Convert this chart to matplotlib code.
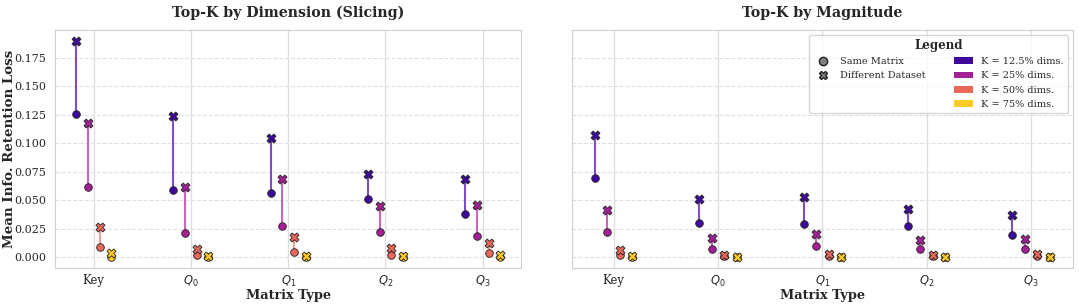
import matplotlib
matplotlib.use("Agg")
import matplotlib.pyplot as plt
from matplotlib.lines import Line2D
from matplotlib.patches import Patch
import seaborn as sns
import numpy as np

sns.set_style("whitegrid")
plt.rcParams['font.family'] = ['DejaVu Serif']

matrices = ["Key", "$Q_0$", "$Q_1$", "$Q_2$", "$Q_3$"]
k_labels = ["K = 12.5% dims.", "K = 25% dims.", "K = 50% dims.", "K = 75% dims."]
colors = ["#3f0a9c", "#a51f97", "#e9685a", "#fdca26"]
line_colors = ["#7d4fc4", "#cc63bd", "#f0a096", "#fde08a"]

# slicing: same matrix (circle) / different dataset (X), rows = K, cols = matrices
slice_same = [
    [0.126, 0.0586, 0.056, 0.051, 0.038],
    [0.0618, 0.0211, 0.027, 0.022, 0.0187],
    [0.0085, 0.0015, 0.0041, 0.0015, 0.0032],
    [0.0003, 0.0003, 0.0003, 0.0002, 0.0003],
]
slice_diff = [
    [0.190, 0.124, 0.1047, 0.073, 0.0686],
    [0.1175, 0.0618, 0.0683, 0.045, 0.0457],
    [0.0267, 0.007, 0.0173, 0.0076, 0.012],
    [0.0035, 0.001, 0.001, 0.0008, 0.0015],
]
mag_same = [
    [0.0695, 0.0296, 0.029, 0.027, 0.0193],
    [0.0216, 0.0073, 0.0093, 0.007, 0.0067],
    [0.0018, 0.0006, 0.001, 0.0007, 0.0009],
    [0.0002, 0.0001, 0.0002, 0.0001, 0.0002],
]
mag_diff = [
    [0.1073, 0.0513, 0.053, 0.0419, 0.0366],
    [0.041, 0.0167, 0.0205, 0.0152, 0.0155],
    [0.0064, 0.0018, 0.0026, 0.0018, 0.0026],
    [0.0005, 0.0004, 0.0004, 0.0003, 0.0004],
]

fig, axes = plt.subplots(1, 2, figsize=(10.79, 3.06), dpi=100, sharey=True,
                         gridspec_kw={"width_ratios": [466, 500]})
fig.subplots_adjust(left=0.051, right=0.994, top=0.902, bottom=0.125, wspace=0.105)

x = np.arange(len(matrices))
width = 0.12

def draw(ax, same, diff, title):
    for i in range(len(k_labels)):
        xs = x + (i - 1.5) * width
        for j in range(len(matrices)):
            ax.plot([xs[j], xs[j]], [same[i][j], diff[i][j]], color=line_colors[i],
                    lw=1.5, zorder=2)
        ax.scatter(xs, same[i], marker="o", s=30, color=colors[i],
                   edgecolor="#222222", linewidth=0.6, zorder=3)
        ax.scatter(xs, diff[i], marker="X", s=42, color=colors[i],
                   edgecolor="#222222", linewidth=0.6, zorder=3)
    ax.set_xticks(x)
    ax.set_xticklabels(matrices)
    ax.set_title(title, fontsize=10.2, fontweight="bold", pad=9)
    ax.set_xlabel("Matrix Type", fontsize=9.3, fontweight="bold", labelpad=0)
    ax.grid(axis="y", linestyle="--", color="#e0e0e0", lw=0.8)
    ax.grid(axis="x", linestyle="-", color="#dddddd", lw=0.9)
    ax.tick_params(axis="y", labelsize=8, pad=3)
    ax.tick_params(axis="x", labelsize=8.3, pad=1)
    for s in ax.spines.values():
        s.set_color("#d0d0d0")

draw(axes[0], slice_same, slice_diff, "Top-K by Dimension (Slicing)")
draw(axes[1], mag_same, mag_diff, "Top-K by Magnitude")
axes[0].set_ylabel("Mean Info. Retention Loss", fontsize=9.6, fontweight="bold")
axes[0].yaxis.set_label_coords(-0.083, 0.5)
axes[0].set_yticks([0.0, 0.025, 0.05, 0.075, 0.1, 0.125, 0.15, 0.175])
axes[0].yaxis.set_major_formatter(matplotlib.ticker.FormatStrFormatter("%.3f"))

blank = Line2D([], [], linestyle="none", marker="none")
handles = [
    Line2D([], [], linestyle="none", marker="o", markersize=6, color="gray",
           markeredgecolor="#222222"),
    Line2D([], [], linestyle="none", marker="X", markersize=6, color="gray",
           markeredgecolor="#222222"),
    blank, blank,
] + [Patch(facecolor=c, edgecolor="none") for c in colors]
labels = ["Same Matrix", "Different Dataset", "", ""] + k_labels
leg = axes[1].legend(handles, labels, ncol=2, loc="upper right", fontsize=7,
                     title="Legend", title_fontproperties={"weight": "bold", "size": 8.5},
                     frameon=True, handlelength=2.0, columnspacing=2.9,
                     labelspacing=0.55, borderaxespad=0.5)
leg.get_frame().set_edgecolor("#cccccc")

fig.savefig("out.png", dpi=100)
